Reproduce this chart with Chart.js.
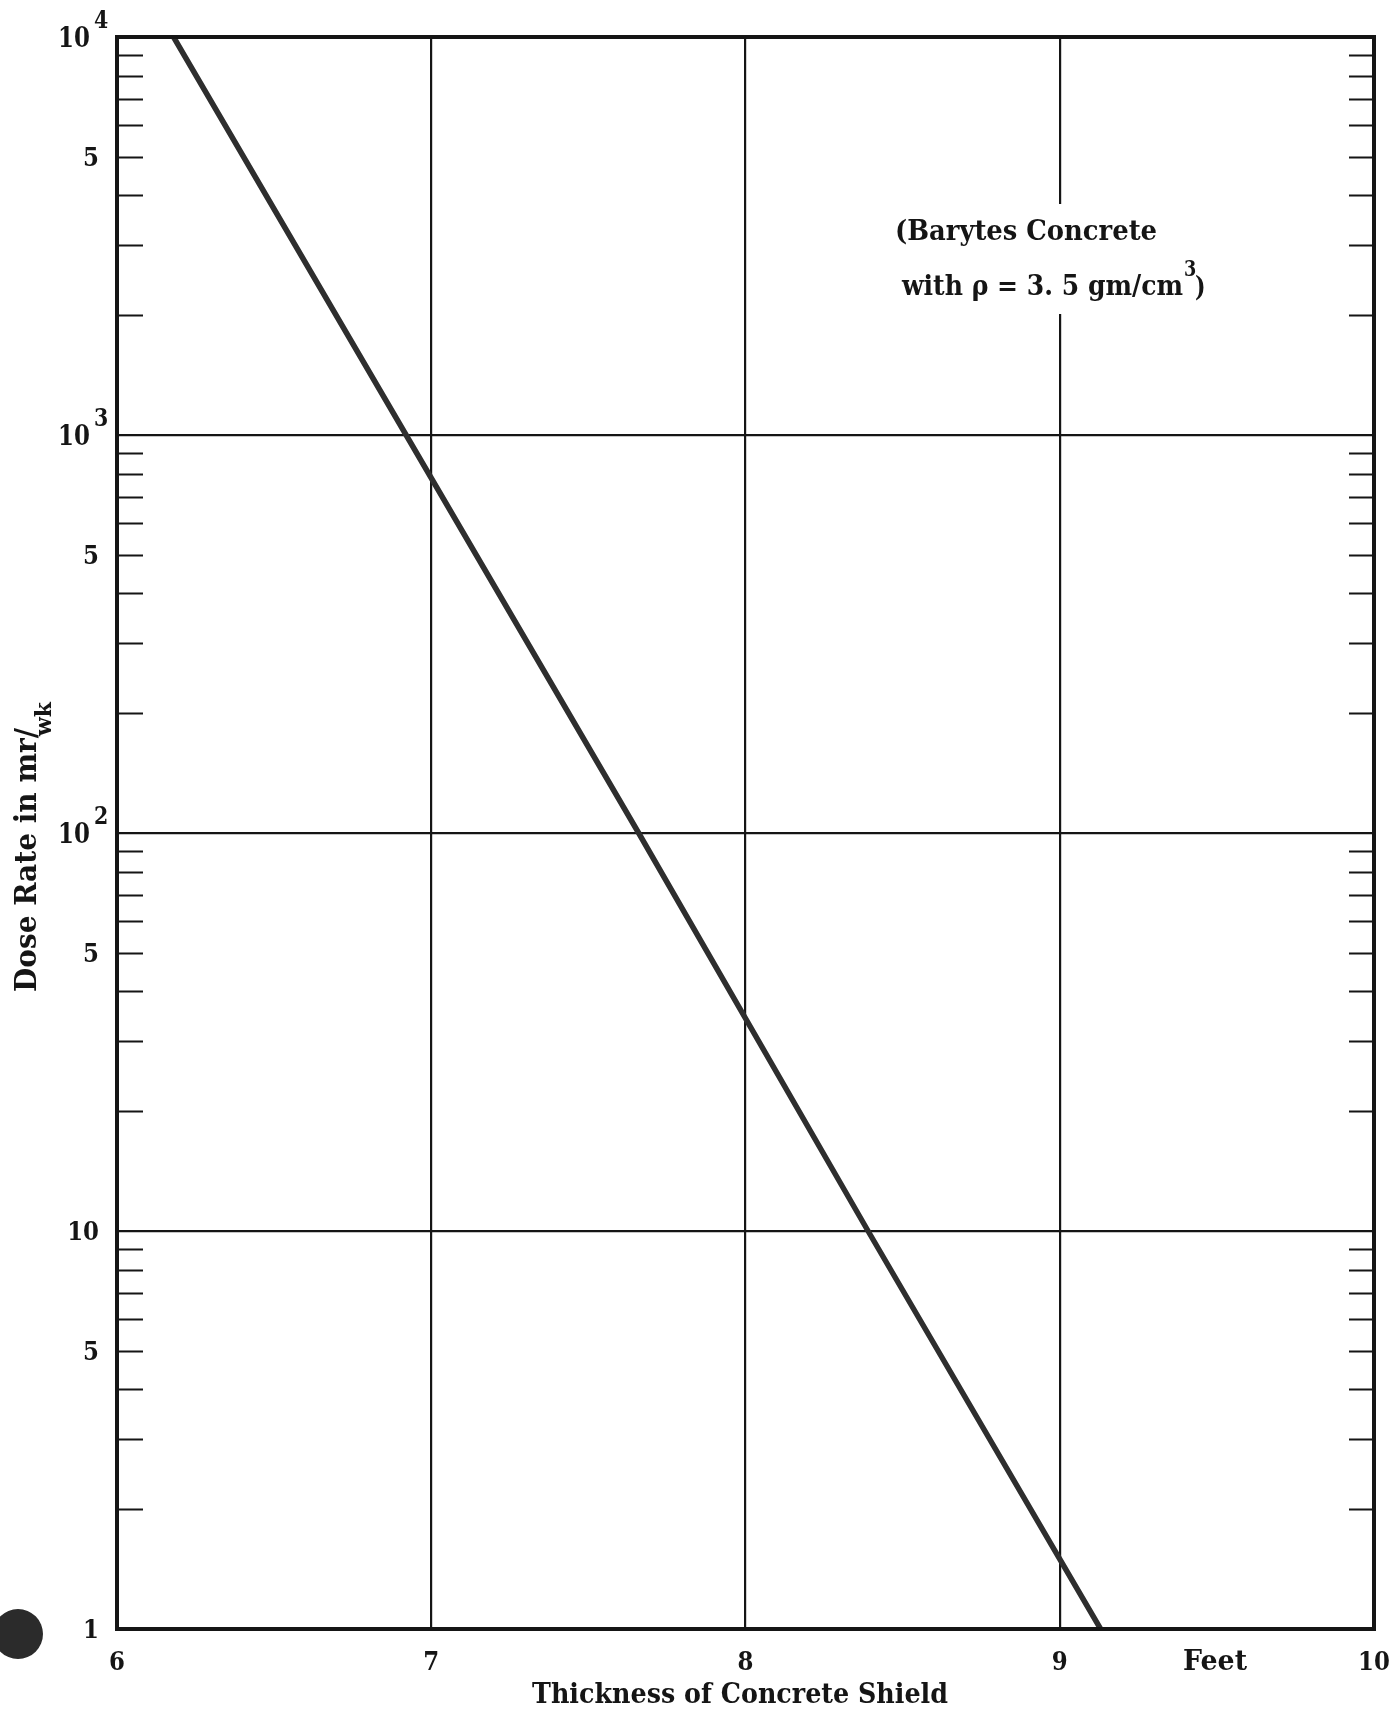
<!DOCTYPE html>
<html>
<head>
<meta charset="utf-8">
<script src="https://cdn.jsdelivr.net/npm/chart.js@4.4.1/dist/chart.umd.min.js"></script>
<style>
  html, body { margin: 0; padding: 0; background: #fff; }
  canvas { display: block; }
</style>
</head>
<body>
<canvas id="shield-chart" width="1400" height="1711"></canvas>
<script>
// dose rate behind barytes concrete
const thicknessFt = [6.18, 6.92, 7.66, 8.39, 9.13];
const doseRate = [10000, 1000, 100, 10, 1];

const xTickValues = [6, 7, 8, 9, 10];
const xTickLabels = ['6', '7', '8', '9', '10'];
const yGridValues = [1, 10, 100, 1000, 10000];
const yLabelValues = [10000, 5000, 1000, 500, 100, 50, 10, 5, 1];
const yLabelBase = ['10', '5', '10', '5', '10', '5', '10', '5', '1'];
const yLabelExp = ['4', '', '3', '', '2', '', '', '', ''];
const minorSteps = [2, 3, 4, 5, 6, 7, 8, 9];

const INK = '#151515';
const FONT = '"DejaVu Serif", "Liberation Serif", serif';

function drawText(ctx, str, x, y, size, align, sx) {
    ctx.save();
    ctx.font = 'bold ' + size + 'px ' + FONT;
    ctx.textBaseline = 'alphabetic';
    ctx.textAlign = 'left';
    let w = ctx.measureText(str).width * sx;
    let left = x;
    if (align === 'center') left = x - w / 2;
    if (align === 'right') left = x - w;
    ctx.translate(left, y);
    ctx.scale(sx, 1);
    ctx.fillText(str, 0, 0);
    ctx.restore();
    return w;
}

function fitText(ctx, str, x, y, size, width) {
    ctx.save();
    ctx.font = 'bold ' + size + 'px ' + FONT;
    let w = ctx.measureText(str).width;
    ctx.restore();
    return drawText(ctx, str, x, y, size, 'left', width / w);
}

const paperPlugin = {
    id: 'paper',
    afterDraw(chart) {
        const ctx = chart.ctx;
        const area = chart.chartArea;
        const xs = chart.scales.x;
        const ys = chart.scales.y;
        ctx.save();
        ctx.fillStyle = INK;
        ctx.strokeStyle = INK;

        // short minor ticks on both sides of the log axis
        ctx.lineWidth = 2;
        ctx.beginPath();
        for (let d = 0; d < yGridValues.length - 1; d++) {
            for (let m of minorSteps) {
                let py = Math.round(ys.getPixelForValue(yGridValues[d] * m)) + 0.5;
                ctx.moveTo(area.left, py);
                ctx.lineTo(area.left + 26, py);
                ctx.moveTo(area.right - 25, py);
                ctx.lineTo(area.right, py);
            }
        }
        ctx.stroke();

        // frame
        ctx.lineWidth = 4;
        ctx.strokeRect(area.left, area.top, area.right - area.left, area.bottom - area.top);

        // y tick labels
        for (let i = 0; i < yLabelValues.length; i++) {
            let py = ys.getPixelForValue(yLabelValues[i]);
            if (yLabelExp[i]) {
                drawText(ctx, yLabelBase[i], 90, py + 10, 27, 'right', 0.85);
                drawText(ctx, yLabelExp[i], 94, py - 9, 25, 'left', 0.82);
            } else {
                drawText(ctx, yLabelBase[i], 99, py + 9, 26, 'right', 0.88);
            }
        }

        // x tick labels
        for (let i = 0; i < xTickValues.length; i++) {
            let px = xs.getPixelForValue(xTickValues[i]);
            drawText(ctx, xTickLabels[i], px, 1670, 26, 'center', 0.88);
        }
        fitText(ctx, 'Feet', 1183, 1670, 28, 64);

        // axis titles
        fitText(ctx, 'Thickness of Concrete Shield', 532, 1703, 28, 416);
        ctx.save();
        ctx.translate(36, 992);
        ctx.rotate(-Math.PI / 2);
        let tw = fitText(ctx, 'Dose Rate in mr/', 0, 0, 30, 264);
        fitText(ctx, 'wk', tw - 8, 15, 22, 34);
        ctx.restore();

        // note box
        ctx.fillStyle = '#fff';
        ctx.fillRect(886, 204, 332, 110);
        ctx.fillStyle = INK;
        fitText(ctx, '(Barytes Concrete', 895, 240, 28, 262);
        let lw = fitText(ctx, 'with \u03c1 = 3. 5 gm/cm', 902, 295, 28, 281);
        drawText(ctx, '3', 902 + lw + 1, 276, 22, 'left', 0.8);
        drawText(ctx, ')', 902 + lw + 12, 296, 28, 'left', 0.8);

        // punch hole mark
        ctx.fillStyle = '#2b2b2b';
        ctx.beginPath();
        ctx.arc(18, 1634, 25, 0, Math.PI * 2);
        ctx.fill();
        ctx.restore();
    }
};

new Chart(document.getElementById('shield-chart').getContext('2d'), {
    type: 'line',
    data: {
        datasets: [{
            label: 'Dose rate',
            data: thicknessFt.map((t, i) => ({ x: t, y: doseRate[i] })),
            borderColor: '#2e2e2e',
            borderWidth: 5.5,
            pointRadius: 0,
            tension: 0,
            fill: false
        }]
    },
    options: {
        responsive: false,
        animation: false,
        devicePixelRatio: 1,
        layout: { padding: { left: 117, top: 37, right: 26, bottom: 82 } },
        plugins: { legend: { display: false }, tooltip: { enabled: false } },
        scales: {
            x: {
                type: 'linear',
                min: 6,
                max: 10,
                afterBuildTicks: s => { s.ticks = xTickValues.map(v => ({ value: v })); },
                afterFit: s => { s.height = 0; },
                ticks: { display: false },
                grid: { color: INK, lineWidth: 2.2, drawTicks: false },
                border: { display: false }
            },
            y: {
                type: 'logarithmic',
                min: 1,
                max: 10000,
                afterBuildTicks: s => { s.ticks = yGridValues.map(v => ({ value: v })); },
                afterFit: s => { s.width = 0; },
                ticks: { display: false },
                grid: { color: INK, lineWidth: 2.2, drawTicks: false },
                border: { display: false }
            }
        }
    },
    plugins: [paperPlugin]
});
</script>
</body>
</html>
